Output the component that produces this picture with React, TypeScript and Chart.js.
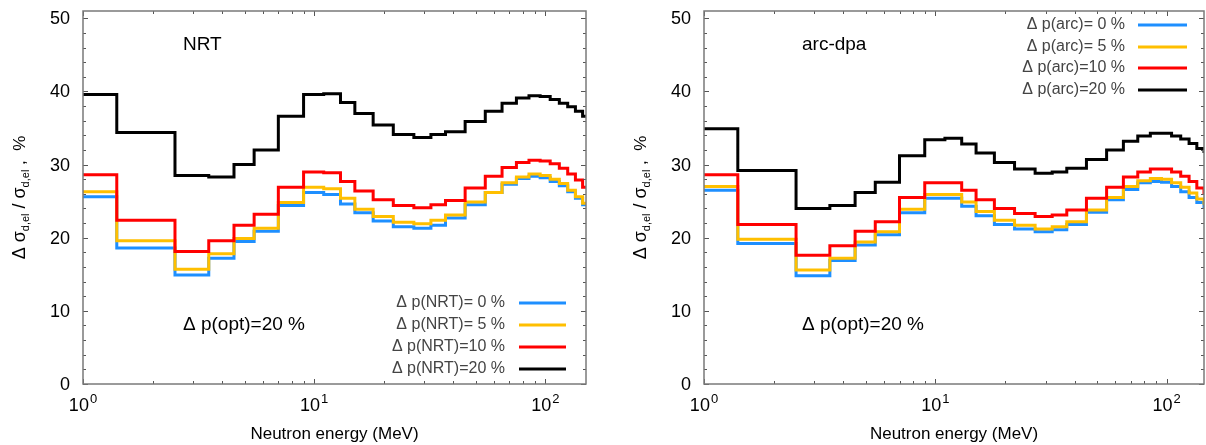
import React, { useEffect, useRef } from "react";
import { Chart, registerables } from "chart.js";
Chart.register(...registerables);

// Energy group boundaries (MeV)
const binEdges = [1, 1.4, 2.5, 3.5, 4.5, 5.5, 7, 9, 11, 13, 15, 18, 22, 27, 32, 37, 45, 55, 65, 75, 85, 95, 105, 115, 125, 135, 145, 150];

// Left panel: NRT
const nrt0 = [25.6, 18.6, 14.9, 17.2, 19.5, 20.9, 24.4, 26.2, 25.9, 24.6, 23.4, 22.3, 21.5, 21.3, 21.7, 22.7, 24.5, 26.2, 27.3, 28.1, 28.4, 28.2, 27.7, 27.1, 26.3, 25.4, 24.5];
const nrt5 = [26.3, 19.6, 15.7, 17.8, 19.9, 21.3, 24.8, 26.9, 26.7, 25.4, 23.9, 22.9, 22.1, 21.9, 22.4, 23.1, 24.9, 26.2, 27.5, 28.3, 28.7, 28.5, 28.0, 27.4, 26.5, 25.6, 24.7];
const nrt10 = [28.6, 22.4, 18.1, 19.6, 21.7, 23.2, 26.9, 29.0, 28.9, 27.7, 26.4, 25.2, 24.4, 24.1, 24.5, 25.1, 26.8, 28.4, 29.6, 30.3, 30.6, 30.5, 30.1, 29.5, 28.7, 27.9, 26.9];
const nrt20 = [39.6, 34.4, 28.5, 28.3, 30.0, 32.0, 36.6, 39.6, 39.7, 38.5, 37.0, 35.4, 34.1, 33.7, 34.1, 34.5, 35.9, 37.3, 38.4, 39.1, 39.4, 39.3, 38.9, 38.4, 37.9, 37.3, 36.6];

// Right panel: arc-dpa
const arc0 = [26.5, 19.2, 14.8, 16.9, 19.0, 20.4, 23.4, 25.4, 25.4, 24.3, 23.0, 21.8, 21.2, 20.8, 21.1, 21.8, 23.5, 25.2, 26.6, 27.5, 27.7, 27.6, 27.0, 26.3, 25.5, 24.8, 24.0];
const arc5 = [27.0, 19.8, 15.6, 17.2, 19.4, 20.8, 23.9, 25.9, 25.9, 24.9, 23.6, 22.4, 21.7, 21.2, 21.5, 22.2, 23.8, 25.5, 27.0, 27.8, 28.1, 28.0, 27.5, 26.9, 26.1, 25.3, 24.5];
const arc10 = [28.6, 21.8, 17.6, 18.9, 20.9, 22.2, 25.5, 27.5, 27.5, 26.5, 25.2, 24.0, 23.3, 22.9, 23.1, 23.8, 25.4, 26.9, 28.3, 29.0, 29.4, 29.4, 29.0, 28.4, 27.7, 26.8, 25.9];
const arc20 = [34.9, 29.2, 24.0, 24.4, 26.2, 27.6, 31.2, 33.4, 33.6, 32.8, 31.6, 30.3, 29.4, 28.8, 29.0, 29.5, 30.7, 32.0, 33.2, 33.9, 34.3, 34.3, 33.9, 33.5, 32.9, 32.2, 31.6];

const yTickValues = [0, 10, 20, 30, 40, 50];
const xTickValues = [1, 10, 100];
const xTickExponents = ["0", "1", "2"];

const nrtLabels = ["Δ p(NRT)= 0 %", "Δ p(NRT)= 5 %", "Δ p(NRT)=10 %", "Δ p(NRT)=20 %"];
const arcLabels = ["Δ p(arc)= 0 %", "Δ p(arc)= 5 %", "Δ p(arc)=10 %", "Δ p(arc)=20 %"];
const seriesColors = ["#1e8fff", "#ffbf00", "#ff0000", "#000000"];
const xTitle = "Neutron energy (MeV)";
const optLabel = "Δ p(opt)=20 %";

const FONT = "'Liberation Sans', Arial, sans-serif";

type PanelCfg = {
  series: number[][];
  labels: string[];
  title: string;
  xMax: number;
  padding: { left: number; right: number; top: number; bottom: number };
  legend: { textRight: number; x1: number; x2: number; ys: number[] };
  titlePos: { x: number; y: number };
  optPos: { x: number; y: number };
};

function makeDecor(cfg: PanelCfg) {
  return {
    id: "decor",
    afterDraw(chart: any) {
      const ctx: CanvasRenderingContext2D = chart.ctx;
      const { left, right, top, bottom } = chart.chartArea;
      const xs = chart.scales.x;
      const ys = chart.scales.y;
      ctx.save();
      const line = (x1: number, y1: number, x2: number, y2: number) => {
        ctx.beginPath();
        ctx.moveTo(x1, y1);
        ctx.lineTo(x2, y2);
        ctx.stroke();
      };
      // ticks
      ctx.strokeStyle = "#555";
      ctx.lineWidth = 1;
      for (let v = 0; v <= 50; v += 2) {
        const y = Math.round(ys.getPixelForValue(v)) + 0.5;
        const len = v % 10 === 0 ? 5 : 3;
        line(left, y, left + len, y);
        line(right, y, right - len, y);
      }
      for (let d = 1; d <= 100; d *= 10) {
        for (let m = 1; m <= 9; m++) {
          const v = m * d;
          if (v < xs.min || v > xs.max) continue;
          const x = Math.round(xs.getPixelForValue(v)) + 0.5;
          const len = m === 1 ? 5 : 3;
          line(x, bottom, x, bottom - len);
          line(x, top, x, top + len);
        }
      }
      // frame
      ctx.strokeStyle = "#7a7a7a";
      ctx.lineWidth = 1.5;
      ctx.strokeRect(left, top, right - left, bottom - top);

      // y tick labels
      ctx.fillStyle = "#000";
      ctx.font = `18px ${FONT}`;
      ctx.textAlign = "right";
      ctx.textBaseline = "middle";
      yTickValues.forEach((v) => {
        ctx.fillText(String(v), left - 13, ys.getPixelForValue(v) + 1);
      });
      // x tick labels with superscripts
      ctx.textBaseline = "alphabetic";
      ctx.textAlign = "left";
      xTickValues.forEach((v, i) => {
        if (v > xs.max) return;
        const x = xs.getPixelForValue(v);
        ctx.font = `18px ${FONT}`;
        const wb = ctx.measureText("10").width;
        ctx.font = `13px ${FONT}`;
        const we = ctx.measureText(xTickExponents[i]).width;
        const x0 = x - (wb + we + 1) / 2;
        ctx.font = `18px ${FONT}`;
        ctx.fillText("10", x0, 411);
        ctx.font = `13px ${FONT}`;
        ctx.fillText(xTickExponents[i], x0 + wb + 1, 403);
      });
      // x title
      ctx.font = `17px ${FONT}`;
      ctx.textAlign = "center";
      ctx.textBaseline = "middle";
      ctx.fillText(xTitle, (left + right) / 2, 434);

      // y title (rotated, with subscripts)
      ctx.save();
      ctx.translate(left - 58, (top + bottom) / 2);
      ctx.rotate(-Math.PI / 2);
      ctx.textAlign = "left";
      ctx.textBaseline = "alphabetic";
      const segs = [
        { t: "Δ σ", s: 18, dy: 0 },
        { t: "d,el", s: 11, dy: 4 },
        { t: " / σ", s: 18, dy: 0 },
        { t: "d,el", s: 11, dy: 4 },
        { t: " ,  %", s: 17, dy: 0 },
      ];
      let total = 0;
      segs.forEach((g) => {
        ctx.font = `${g.s}px ${FONT}`;
        total += ctx.measureText(g.t).width;
      });
      let cx = -total / 2;
      segs.forEach((g) => {
        ctx.font = `${g.s}px ${FONT}`;
        ctx.fillText(g.t, cx, g.dy);
        cx += ctx.measureText(g.t).width;
      });
      ctx.restore();

      // annotations
      ctx.fillStyle = "#000";
      ctx.font = `19px ${FONT}`;
      ctx.textAlign = "left";
      ctx.textBaseline = "middle";
      ctx.fillText(cfg.title, cfg.titlePos.x, cfg.titlePos.y);
      ctx.fillText(optLabel, cfg.optPos.x, cfg.optPos.y);

      // legend
      ctx.font = `16px ${FONT}`;
      ctx.textAlign = "right";
      cfg.labels.forEach((lab, i) => {
        const y = cfg.legend.ys[i];
        ctx.fillStyle = "#444";
        ctx.fillText(lab, cfg.legend.textRight, y);
        ctx.strokeStyle = seriesColors[i];
        ctx.lineWidth = 3;
        line(cfg.legend.x1, y, cfg.legend.x2, y);
      });
      ctx.restore();
    },
  };
}

function Panel({ cfg, left }: { cfg: PanelCfg; left: number }) {
  const ref = useRef<HTMLCanvasElement | null>(null);
  useEffect(() => {
    if (!ref.current) return;
    const order = [3, 2, 1, 0];
    const chart = new Chart(ref.current, {
      type: "line",
      data: {
        datasets: order.map((k) => ({
          label: cfg.labels[k],
          data: binEdges.map((e, i) => ({ x: e, y: cfg.series[k][Math.min(i, cfg.series[k].length - 1)] })),
          stepped: "before" as const,
          borderColor: seriesColors[k],
          borderWidth: 3,
          pointRadius: 0,
          fill: false,
        })),
      },
      options: {
        animation: false,
        responsive: false,
        devicePixelRatio: 1,
        events: [],
        layout: { padding: cfg.padding },
        plugins: { legend: { display: false }, tooltip: { enabled: false } },
        scales: {
          x: { type: "logarithmic", min: 1, max: cfg.xMax, display: false },
          y: { type: "linear", min: 0, max: 51, display: false },
        },
      },
      plugins: [makeDecor(cfg)],
    });
    return () => chart.destroy();
  }, [cfg]);
  return (
    <canvas
      ref={ref}
      width={603}
      height={445}
      style={{ position: "absolute", left, top: 0, width: 603, height: 445 }}
    />
  );
}

const leftCfg: PanelCfg = {
  series: [nrt0, nrt5, nrt10, nrt20],
  labels: nrtLabels,
  title: "NRT",
  xMax: 150,
  padding: { left: 83, right: 17, top: 11, bottom: 61 },
  legend: { textRight: 505, x1: 519, x2: 566, ys: [303, 325, 347, 369] },
  titlePos: { x: 183, y: 45 },
  optPos: { x: 183, y: 325 },
};

const rightCfg: PanelCfg = {
  series: [arc0, arc5, arc10, arc20],
  labels: arcLabels,
  title: "arc-dpa",
  xMax: 145,
  padding: { left: 101, right: 2, top: 11, bottom: 61 },
  legend: { textRight: 522, x1: 535, x2: 584, ys: [25, 47, 68, 90] },
  titlePos: { x: 199, y: 45 },
  optPos: { x: 199, y: 325 },
};

export default function App() {
  return (
    <div style={{ position: "absolute", left: 0, top: 0, width: 1206, height: 445, background: "#fff", overflow: "hidden" }}>
      <Panel cfg={leftCfg} left={0} />
      <Panel cfg={rightCfg} left={603} />
    </div>
  );
}
